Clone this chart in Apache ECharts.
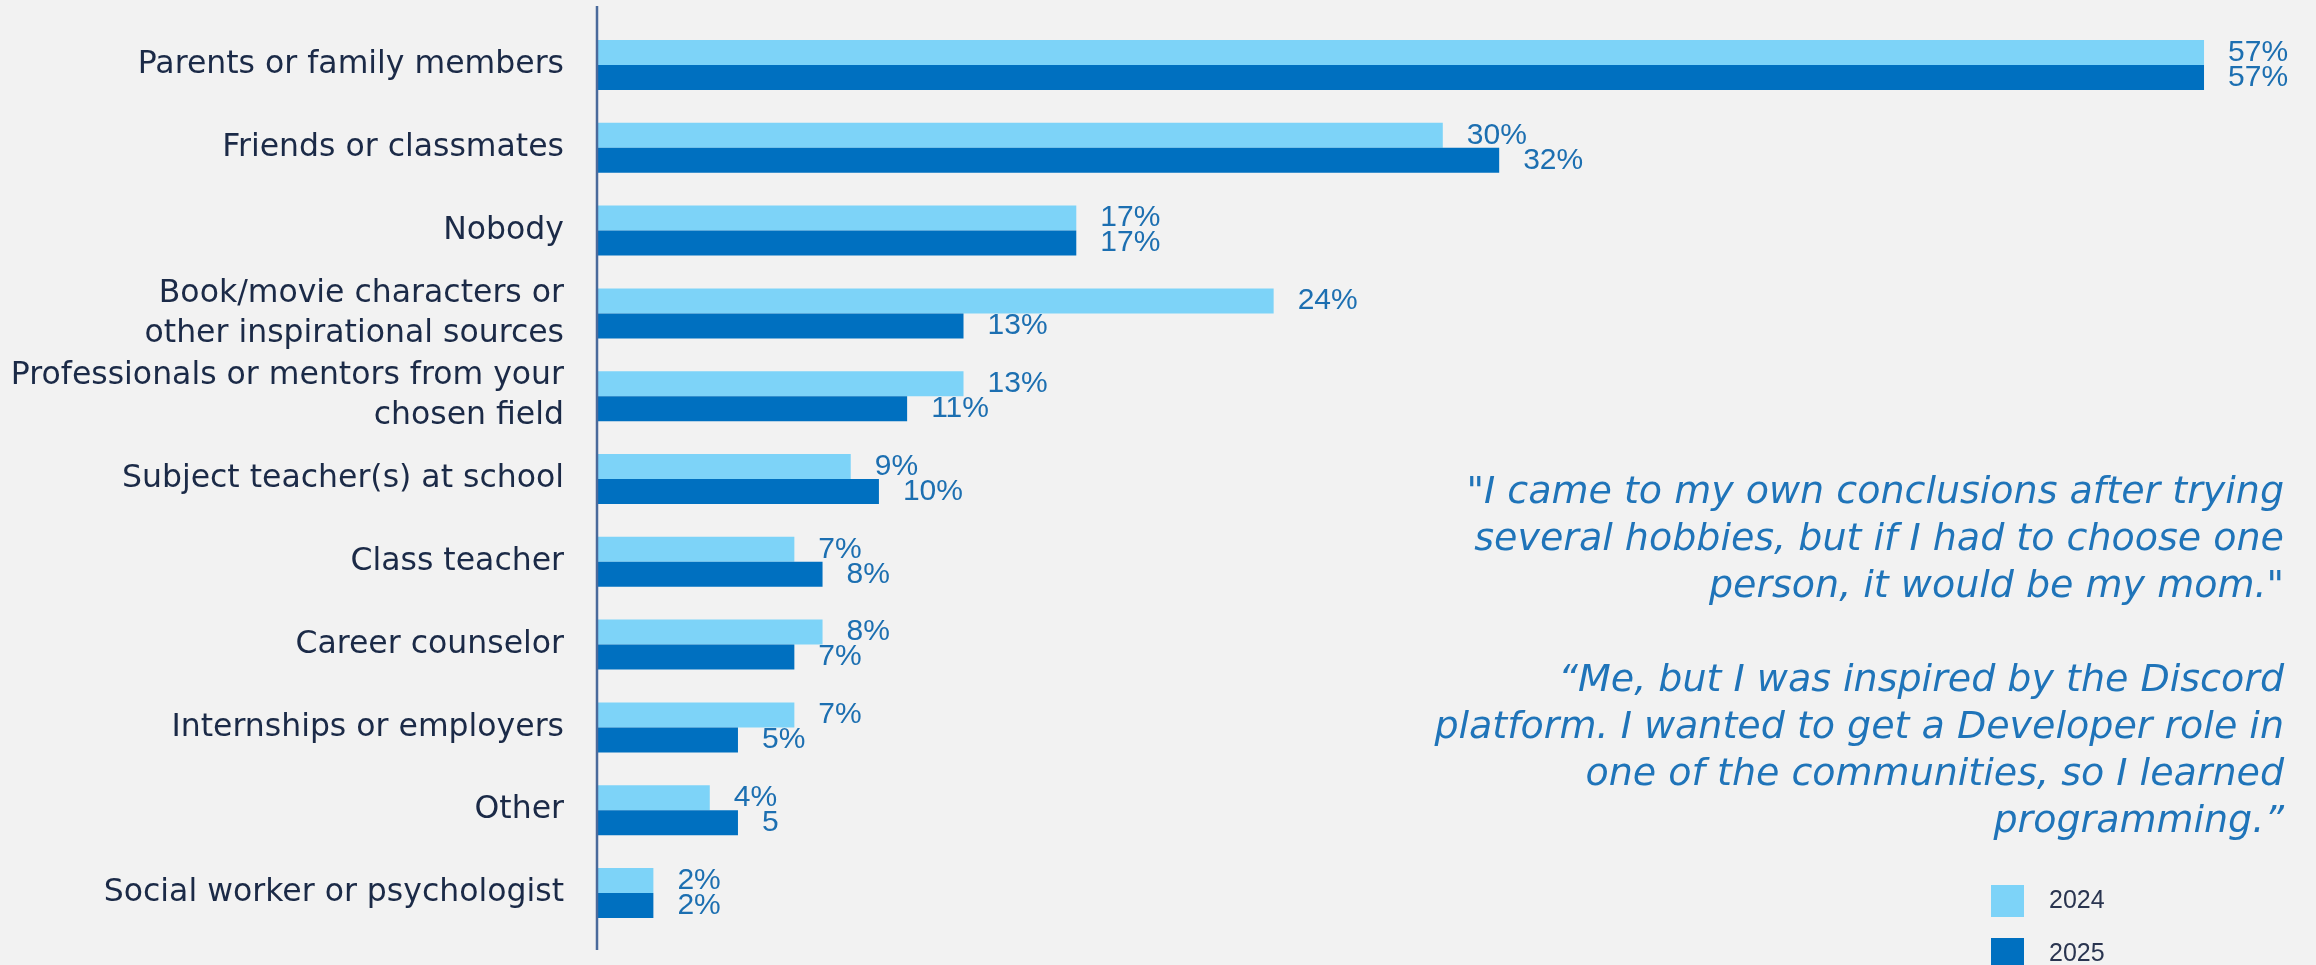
<!DOCTYPE html>
<html>
<head>
<meta charset="utf-8">
<title>Who influenced your career choice</title>
<script src="https://cdn.jsdelivr.net/npm/echarts@6/dist/echarts.min.js"></script>
<style>
  html, body { margin: 0; padding: 0; background: #f2f2f2; }
  #chart { width: 2316px; height: 965px; }
</style>
</head>
<body>
<div id="chart"></div>
<script>
// Survey answers, top to bottom
const categories = [
  'Parents or family members',
  'Friends or classmates',
  'Nobody',
  'Book/movie characters or\nother inspirational sources',
  'Professionals or mentors from your\nchosen field',
  'Subject teacher(s) at school',
  'Class teacher',
  'Career counselor',
  'Internships or employers',
  'Other',
  'Social worker or psychologist'
];

// Share of respondents, %
const values2024 = [57, 30, 17, 24, 13, 9, 7, 8, 7, 4, 2];
const values2025 = [57, 32, 17, 13, 11, 10, 8, 7, 5, 5, 2];

// Value labels as printed next to the bars
const labels2024 = ['57%', '30%', '17%', '24%', '13%', '9%', '7%', '8%', '7%', '4%', '2%'];
const labels2025 = ['57%', '32%', '17%', '13%', '11%', '10%', '8%', '7%', '5%', '5', '2%'];

const seriesNames = ['2024', '2025'];

const quoteText =
  '"I came to my own conclusions after trying\n' +
  'several hobbies, but if I had to choose one\n' +
  'person, it would be my mom."\n' +
  '\n' +
  '\u201CMe, but I was inspired by the Discord\n' +
  'platform. I wanted to get a Developer role in\n' +
  'one of the communities, so I learned\n' +
  'programming.\u201D';

const LIGHT = '#7dd3f8';
const DARK = '#0070c0';
const LABEL_BLUE = '#1c6fb1';
const NAVY = '#1b2a47';

const GRID = { left: 597, top: 23.6, right: 27.4, bottom: 30.6 };

const chart = echarts.init(document.getElementById('chart'));

function valueLabel(texts) {
  return {
    show: true,
    position: 'right',
    distance: 24,
    color: LABEL_BLUE,
    fontFamily: '"Liberation Sans", Arial, sans-serif',
    fontSize: 30,
    formatter: p => texts[p.dataIndex]
  };
}

chart.setOption({
  backgroundColor: '#f2f2f2',
  animation: false,
  grid: GRID,
  legend: {
    orient: 'vertical',
    left: 1991,
    top: 885,
    height: 120,
    padding: 0,
    itemWidth: 33,
    itemHeight: 32,
    itemGap: 21,
    icon: 'rect',
    textStyle: {
      color: '#2a3550',
      fontFamily: '"Liberation Sans", Arial, sans-serif',
      fontSize: 25,
      padding: [0, 0, 0, 20]
    },
    data: seriesNames
  },
  xAxis: {
    type: 'value',
    min: 0,
    max: 60,
    show: false
  },
  yAxis: {
    type: 'category',
    inverse: true,
    data: categories,
    axisLine: { show: false },
    axisTick: { show: false },
    splitLine: { show: false },
    axisLabel: {
      margin: 33,
      color: NAVY,
      fontFamily: '"DejaVu Sans", sans-serif',
      fontSize: 31.5,
      lineHeight: 40
    }
  },
  series: [
    {
      name: seriesNames[0],
      type: 'bar',
      data: values2024,
      barWidth: 25,
      barGap: '0%',
      itemStyle: { color: LIGHT },
      label: valueLabel(labels2024)
    },
    {
      name: seriesNames[1],
      type: 'bar',
      data: values2025,
      barWidth: 25,
      barGap: '0%',
      itemStyle: { color: DARK },
      label: valueLabel(labels2025)
    }
  ],
  graphic: [
    {
      // vertical baseline, a little taller than the category band
      type: 'line',
      shape: { x1: GRID.left, y1: 6, x2: GRID.left, y2: 950 },
      style: { stroke: '#4a6a9b', lineWidth: 2.5 },
      z: 10
    },
    {
      type: 'text',
      right: 2316 - 2284,
      top: 470,
      style: {
        text: quoteText,
        textAlign: 'right',
        fill: '#1f74b9',
        font: 'italic 400 38px "DejaVu Sans", sans-serif',
        lineHeight: 47
      }
    }
  ]
});
</script>
</body>
</html>
